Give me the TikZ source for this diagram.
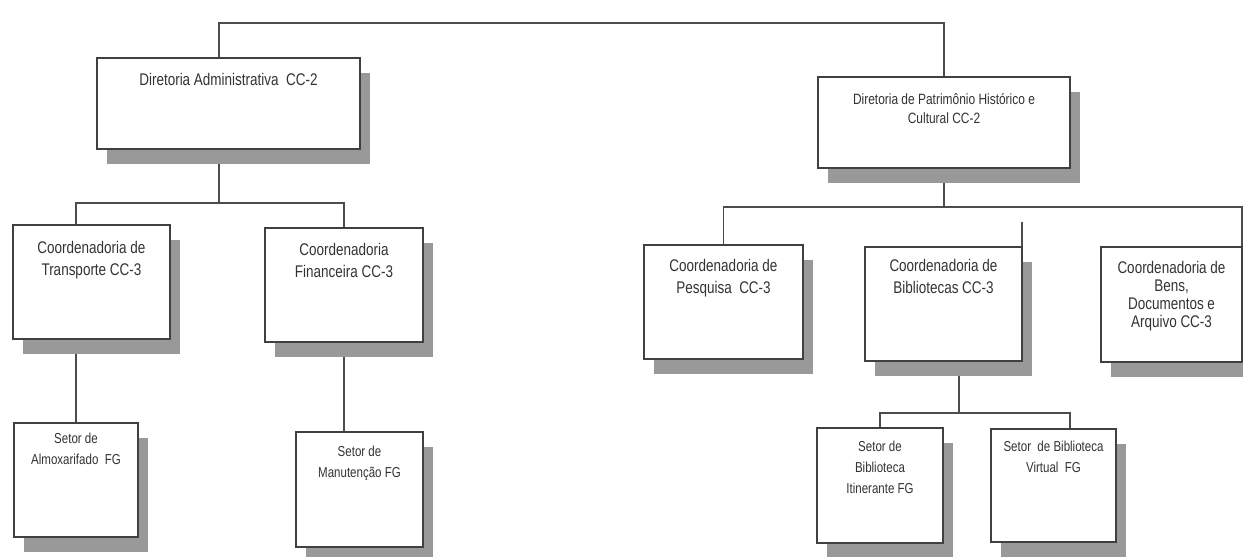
\documentclass[tikz,border=0pt]{standalone}
\usepackage{fontspec}
\usepackage{tikz}
\usetikzlibrary{shadows,backgrounds}
\newfontfamily\estreita[FakeStretch=0.8]{Liberation Sans}
\newlength\pxu
\setlength\pxu{0.02cm}
\newcommand{\bloco}[4]{\parbox[c][#2\pxu][t]{#1\pxu}{\vspace*{#3\pxu}\centering #4}}
\tikzset{
	caixa/.style={draw=black!75, line width=1.1pt, fill=white, inner sep=0pt, outer sep=0pt,
		anchor=north west, text=black!80,
		drop shadow={shadow xshift=0.2cm, shadow yshift=-0.3cm, fill=black!40, opacity=1}},
	grande/.style={font=\estreita\fontsize{9.6}{12.2}\selectfont},
	media/.style={font=\estreita\fontsize{8.5}{11.3}\selectfont},
	pequena/.style={font=\estreita\fontsize{8.2}{11.9}\selectfont},
	linha/.style={draw=black!70, line width=0.9pt}
}
\begin{document}
\begin{tikzpicture}[x=0.02cm, y=-0.02cm]
	\useasboundingbox (0,0) rectangle (1243,556);
	\node[caixa, grande] (dadm) at (97,58) {\bloco{263}{91}{15.6}{Diretoria Administrativa\ \ CC-2}};
	\node[caixa, media] (dpat) at (818,77) {\bloco{252}{91}{16}{Diretoria de Patrimônio Histórico e\\Cultural CC-2}};
	\node[caixa, grande] (ctra) at (13,225) {\bloco{157}{114}{16.6}{Coordenadoria de\\Transporte CC-3}};
	\node[caixa, grande] (cfin) at (265,228) {\bloco{158}{114}{15.6}{Coordenadoria\\Financeira CC-3}};
	\node[caixa, grande] (cpes) at (644,245) {\bloco{159}{114}{14.6}{Coordenadoria de\\Pesquisa\ \ CC-3}};
	\node[caixa, grande] (cbib) at (865,247) {\bloco{157}{114}{12.6}{Coordenadoria de\\Bibliotecas CC-3}};
	\node[caixa, font=\estreita\fontsize{9.6}{10.2}\selectfont] (cben) at (1101,247) {\bloco{141}{115}{14.6}{Coordenadoria de\\Bens,\\Documentos e\\Arquivo CC-3}};
	\node[caixa, pequena] (salm) at (14,423) {\bloco{124}{114}{10}{Setor de\\Almoxarifado\ \ FG}};
	\node[caixa, pequena] (sman) at (296,432) {\bloco{127}{115}{14}{Setor de\\Manutenção FG}};
	\node[caixa, pequena] (sbit) at (817,428) {\bloco{126}{115}{13}{Setor de\\Biblioteca\\Itinerante FG}};
	\node[caixa, pequena] (svir) at (991,429) {\bloco{125}{113}{12}{Setor\ \ de Biblioteca\\Virtual\ \ FG}};
	\coordinate (bTopo) at (580,23);
	\coordinate (bAdm) at (219,203);
	\coordinate (bPat) at (944,207);
	\coordinate (bBib) at (959,413);
	\coordinate (pontaBib) at (1022,222);
	\begin{scope}[on background layer]
		\draw[linha] ([xshift=-0.19cm]dadm.north) |- (bTopo) -| (dpat.north);
		\draw[linha] ([xshift=-0.19cm]dadm.south) -- (bAdm);
		\draw[linha] ([xshift=-0.31cm]ctra.north) |- (bAdm) -| (cfin.north);
		\draw[linha] ([xshift=-0.31cm]ctra.south) -- (salm.north);
		\draw[linha] (cfin.south) -- ([xshift=-0.31cm]sman.north);
		\draw[linha] (dpat.south) -- (bPat);
		\draw[linha] (cpes.north) |- (bPat) -| (cben.north east);
		\draw[linha] (pontaBib) -- (cbib.north east);
		\draw[linha] ([xshift=0.31cm]cbib.south) -- (bBib);
		\draw[linha] (sbit.north) |- (bBib) -| ([xshift=0.33cm]svir.north);
	\end{scope}
\end{tikzpicture}
\end{document}
